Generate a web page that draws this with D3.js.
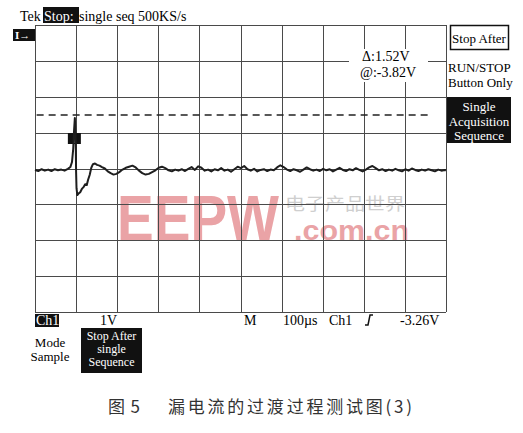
<!DOCTYPE html>
<html>
<head>
<meta charset="utf-8">
<script src="https://cdn.jsdelivr.net/npm/d3@7"></script>
<style>
  body { margin: 0; background: #fff; }
  svg { display: block; }
  .scope { font-family: 'Liberation Serif', serif; }
</style>
</head>
<body>
<svg id="chart" width="523" height="433"></svg>
<script>
// time axis: 10 divisions of 100us, volt axis: 8 divisions of 1V
const gridTimes = [0, 100, 200, 300, 400, 500, 600, 700, 800, 900, 1000]
const gridVolts = [-4, -3, -2, -1, 0, 1, 2, 3, 4]
const cursorVolts = 1.49

// captured trace [time us, volts]
const trace = [
  [0, -0.04], [8, -0.07], [16, -0.02], [24, -0.06], [32, -0.03], [40, -0.07],
  [48, -0.02], [56, -0.05], [64, -0.03], [72, -0.06], [80, -0.01], [86, 0.04],
  [90, 0.18], [93, 0.55], [95, 1.05], [97, 1.41], [99, 0.8], [100, -0.1],
  [101, -0.55], [103, -0.74], [106, -0.7], [110, -0.66], [114, -0.57], [118, -0.52],
  [122, -0.44], [126, -0.46], [129, -0.32], [133, -0.18], [137, 0.02], [141, 0.12],
  [146, 0.14], [151, 0.1], [157, 0.08], [163, 0.04], [170, 0.0], [177, -0.08],
  [184, -0.13], [191, -0.17], [198, -0.15], [205, -0.1], [213, -0.03], [221, 0.02],
  [229, 0.05], [237, 0.08], [245, 0.03], [253, -0.06], [261, -0.13], [269, -0.17],
  [277, -0.15], [285, -0.1], [293, -0.05], [301, 0.02], [309, 0.05], [317, 0.01],
  [325, -0.05], [333, -0.08], [341, -0.03], [349, -0.06], [357, -0.02], [365, -0.07],
  [373, -0.01], [381, 0.04], [389, -0.04], [397, 0.06], [405, 0.02], [413, -0.06],
  [421, -0.03], [429, -0.08], [437, -0.02], [445, -0.05], [453, 0.01], [461, -0.06],
  [469, -0.03], [477, -0.09], [485, -0.02], [493, 0.05], [501, 0.01], [509, 0.07],
  [517, -0.02], [525, -0.06], [533, -0.01], [541, -0.08], [549, -0.04], [557, -0.02],
  [565, -0.07], [573, -0.03], [581, -0.05], [589, 0.03], [597, 0.09], [605, 0.04],
  [613, -0.03], [621, -0.07], [629, -0.02], [637, -0.05], [645, -0.09], [653, -0.03],
  [661, 0.03], [669, -0.02], [677, -0.06], [685, -0.03], [693, -0.07], [701, -0.01],
  [709, -0.05], [717, -0.02], [725, -0.08], [733, -0.03], [741, 0.02], [749, -0.04],
  [757, -0.07], [765, -0.02], [773, -0.05], [781, 0.01], [789, -0.04], [797, -0.08],
  [805, -0.03], [813, 0.03], [821, 0.07], [829, 0.01], [837, -0.05], [845, -0.02],
  [853, -0.07], [861, -0.03], [869, -0.06], [877, -0.01], [885, -0.05], [893, -0.08],
  [901, -0.02], [909, -0.06], [917, 0.0], [925, -0.04], [933, -0.07], [941, -0.03],
  [949, -0.06], [957, -0.02], [965, -0.05], [973, -0.08], [981, -0.03], [989, -0.06],
  [997, -0.04], [1000, -0.05]
]
const triggerTime = 97

const svg = d3.select('#chart')

const x = d3.scaleLinear().domain([0, 1000]).range([35, 446])
const y = d3.scaleLinear().domain([-4, 4]).range([312, 25])

// watermark sits under the grid
const wm = svg.append('g')
wm.append('text')
  .attr('x', 117).attr('y', 241)
  .attr('textLength', 162).attr('lengthAdjust', 'spacingAndGlyphs')
  .style('font', 'bold 64px "Liberation Sans", sans-serif')
  .style('fill', '#eaa3a6')
  .text('EEPW')
wm.append('text')
  .attr('x', 285).attr('y', 210)
  .attr('textLength', 120).attr('lengthAdjust', 'spacingAndGlyphs')
  .style('font', '17px "Noto Sans CJK SC", sans-serif')
  .style('fill', '#cfcfcf')
  .text('电子产品世界')
wm.append('text')
  .attr('x', 294).attr('y', 240)
  .attr('textLength', 115).attr('lengthAdjust', 'spacingAndGlyphs')
  .style('font', 'bold 28px "Liberation Sans", sans-serif')
  .style('fill', '#eaa3a6')
  .text('.com.cn')

// grid
const grid = svg.append('g').attr('stroke', '#4a4a4a').attr('stroke-width', 1)
grid.selectAll('.vline').data(gridTimes).join('line')
  .attr('class', 'vline')
  .attr('x1', (d) => Math.round(x(d)) + 0.5).attr('x2', (d) => Math.round(x(d)) + 0.5)
  .attr('y1', y(4)).attr('y2', y(-4))
grid.selectAll('.hline').data(gridVolts).join('line')
  .attr('class', 'hline')
  .attr('y1', (d) => Math.round(y(d)) + 0.5).attr('y2', (d) => Math.round(y(d)) + 0.5)
  .attr('x1', x(0)).attr('x2', x(1000))

// cursor level
svg.append('line')
  .attr('x1', x(4)).attr('x2', x(962))
  .attr('y1', y(cursorVolts)).attr('y2', y(cursorVolts))
  .attr('stroke', '#222').attr('stroke-width', 1.5)
  .attr('stroke-dasharray', '7,5')

// cursor readout on a white patch
const readout = svg.append('g').attr('class', 'scope')
readout.append('rect')
  .attr('x', 349).attr('y', 49).attr('width', 79).attr('height', 33)
  .attr('fill', '#fff')
readout.append('text').attr('x', 362).attr('y', 61)
  .style('font-size', '14px').text('Δ:1.52V')
readout.append('text').attr('x', 360).attr('y', 77)
  .style('font-size', '14px').text('@:-3.82V')

// trigger marker
const tx = x(triggerTime)
svg.append('rect')
  .attr('x', tx - 7).attr('y', 133).attr('width', 13).attr('height', 11)
  .attr('fill', '#111')
svg.append('line')
  .attr('x1', tx - 1).attr('x2', tx - 1).attr('y1', 134).attr('y2', 143)
  .attr('stroke', '#fff').attr('stroke-width', 1.5)

// the trace
const line = d3.line()
  .x((d) => x(d[0]))
  .y((d) => y(d[1]))
svg.append('path')
  .datum(trace)
  .attr('d', line)
  .attr('fill', 'none')
  .attr('stroke', '#1e1e1e')
  .attr('stroke-width', 2)
  .attr('stroke-linejoin', 'round')

// header
const header = svg.append('g').attr('class', 'scope').style('font-size', '14px')
header.append('text').attr('x', 20).attr('y', 21).text('Tek')
header.append('rect').attr('x', 43).attr('y', 7).attr('width', 36).attr('height', 16).attr('fill', '#111')
header.append('text').attr('x', 44).attr('y', 21).attr('fill', '#fff').text('Stop:')
header.append('text').attr('x', 79).attr('y', 21).text('single seq 500KS/s')

// channel ground marker
svg.append('rect').attr('x', 13).attr('y', 29).attr('width', 22).attr('height', 12).attr('fill', '#111')
svg.append('text').attr('class', 'scope')
  .attr('x', 15).attr('y', 39).attr('fill', '#fff')
  .style('font-size', '11px').style('font-weight', 'bold')
  .text('I→')

// right hand menu
const menu = svg.append('g').attr('class', 'scope').style('font-size', '13px')
menu.append('rect')
  .attr('x', 450.5).attr('y', 25.5).attr('width', 58).attr('height', 24)
  .attr('fill', '#fff').attr('stroke', '#111').attr('stroke-width', 1.5)
menu.append('text').attr('x', 479).attr('y', 43).attr('text-anchor', 'middle').text('Stop After')
menu.append('text').attr('x', 448).attr('y', 72).text('RUN/STOP')
menu.append('text').attr('x', 448).attr('y', 87).text('Button Only')
menu.append('rect').attr('x', 447).attr('y', 97).attr('width', 64).attr('height', 46).attr('fill', '#111')
const menuLines = ['Single', 'Acquisition', 'Sequence']
menu.selectAll('.ml').data(menuLines).join('text')
  .attr('class', 'ml')
  .attr('x', 479).attr('y', (d, i) => 111 + i * 14.5)
  .attr('text-anchor', 'middle').attr('fill', '#fff')
  .text((d) => d)

// footer readout
const foot = svg.append('g').attr('class', 'scope').style('font-size', '14px')
foot.append('rect').attr('x', 35).attr('y', 314).attr('width', 24).attr('height', 13).attr('fill', '#111')
foot.append('text').attr('x', 36).attr('y', 325).attr('fill', '#fff').text('Ch1')
foot.append('text').attr('x', 100).attr('y', 325).text('1V')
foot.append('text').attr('x', 244).attr('y', 325).text('M')
foot.append('text').attr('x', 283).attr('y', 325).text('100µs')
foot.append('text').attr('x', 329).attr('y', 325).text('Ch1')
foot.append('path')
  .attr('d', 'M365,325 L368,325 L370,315 L373,315')
  .attr('fill', 'none').attr('stroke', '#111').attr('stroke-width', 1.5)
foot.append('text').attr('x', 400).attr('y', 325).text('-3.26V')

const mode = svg.append('g').attr('class', 'scope').style('font-size', '13px')
mode.append('text').attr('x', 50).attr('y', 347).attr('text-anchor', 'middle').text('Mode')
mode.append('text').attr('x', 50).attr('y', 361).attr('text-anchor', 'middle').text('Sample')
mode.append('rect').attr('x', 81).attr('y', 328).attr('width', 61).attr('height', 45).attr('fill', '#111')
const stopLines = ['Stop After', 'single', 'Sequence']
mode.selectAll('.sl').data(stopLines).join('text')
  .attr('class', 'sl')
  .attr('x', 111.5).attr('y', (d, i) => 340 + i * 13)
  .attr('text-anchor', 'middle').attr('fill', '#fff')
  .style('font-size', '12px')
  .text((d) => d)

// caption
const cap = svg.append('g').style('font-family', '"Noto Sans CJK SC", sans-serif').style('fill', '#333')
cap.append('text').attr('x', 108).attr('y', 413)
  .attr('textLength', 32).style('font-size', '17px').text('图 5')
cap.append('text').attr('x', 168).attr('y', 413)
  .attr('textLength', 244).style('font-size', '17px').text('漏电流的过渡过程测试图(3)')
</script>
</body>
</html>
